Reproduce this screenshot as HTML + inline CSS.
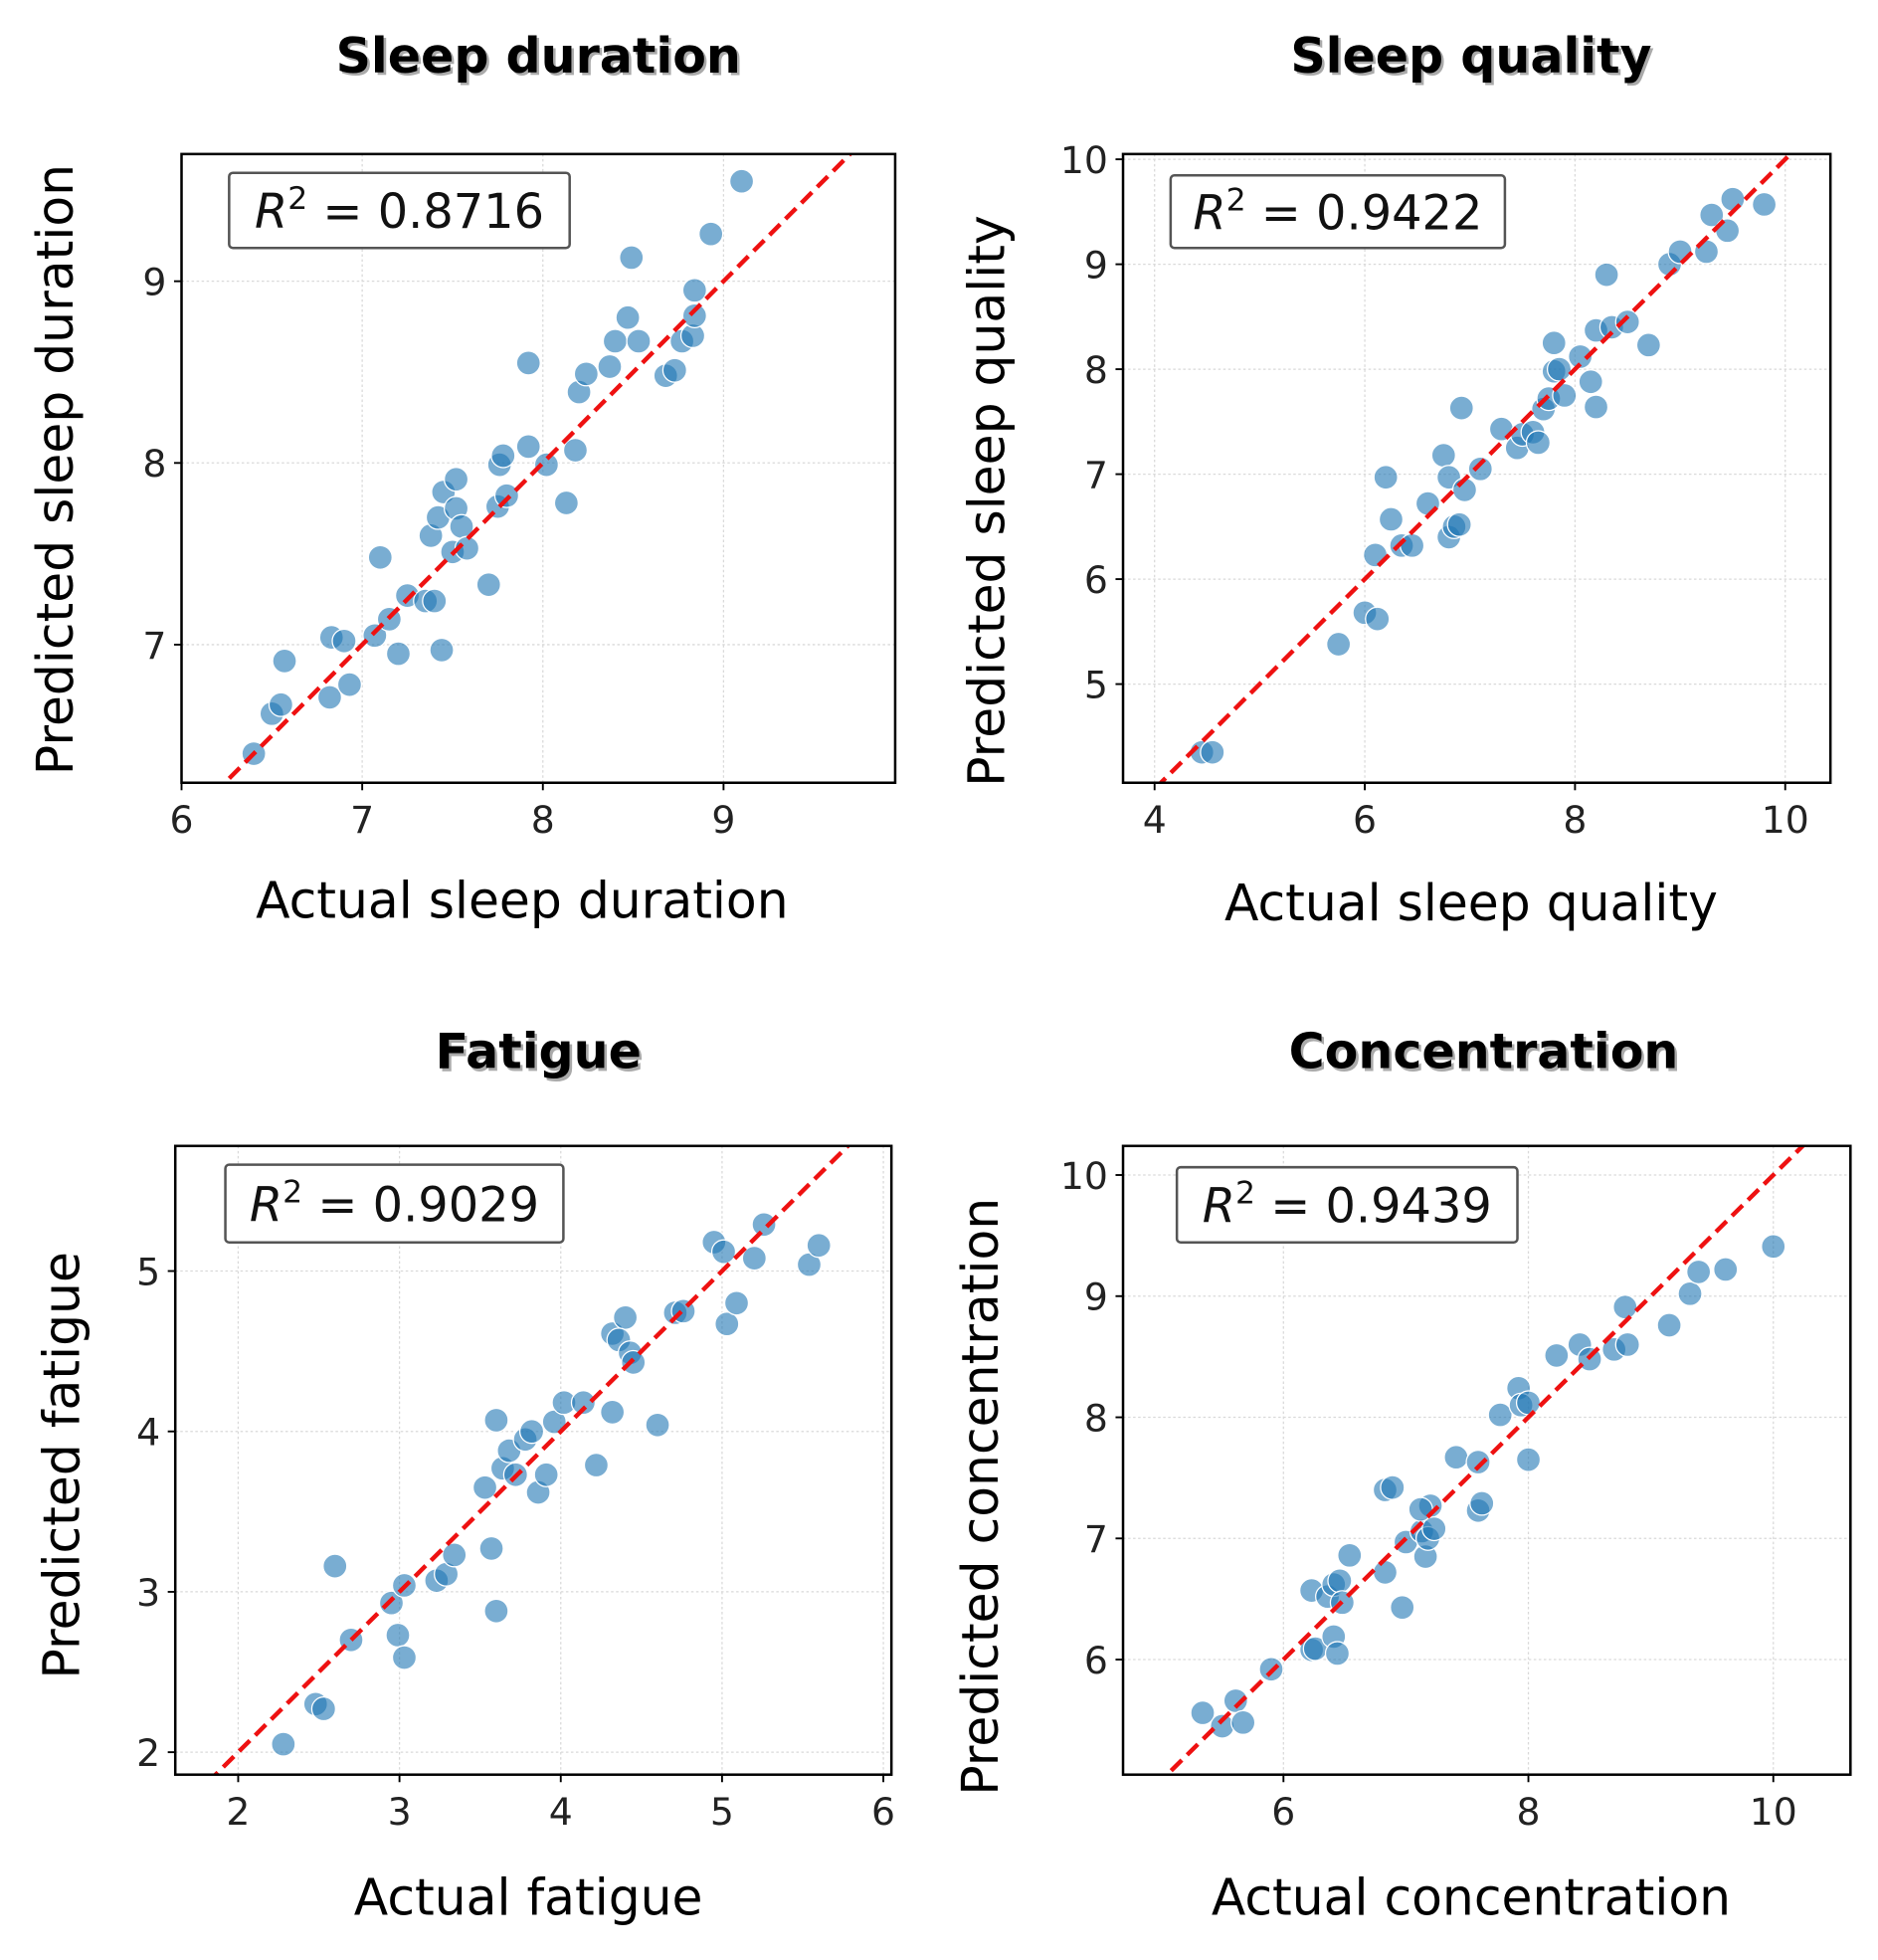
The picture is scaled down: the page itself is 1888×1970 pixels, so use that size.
<!DOCTYPE html>
<html><head><meta charset="utf-8"><style>
html,body{margin:0;padding:0;background:#fff}
svg{display:block}
text{font-family:"DejaVu Sans","Liberation Sans",sans-serif}
</style></head><body>
<svg id="fig" width="1888" height="1970" viewBox="0 0 1500 1565" preserveAspectRatio="none" xmlns="http://www.w3.org/2000/svg"></svg>
<script>
const p1x=[6.4,6.5,6.55,6.57,6.82,6.83,6.9,6.93,7.07,7.1,7.15,7.2,7.25,7.35,7.4,7.38,7.42,7.45,7.44,7.5,7.52,7.52,7.55,7.58,7.7,7.75,7.76,7.78,7.8,7.92,7.92,8.02,8.13,8.18,8.2,8.24,8.37,8.4,8.47,8.49,8.53,8.68,8.73,8.77,8.83,8.84,8.84,8.93,9.1];
const p1y=[6.4,6.62,6.67,6.91,6.71,7.04,7.02,6.78,7.05,7.48,7.14,6.95,7.27,7.24,7.24,7.6,7.7,7.84,6.97,7.51,7.75,7.91,7.65,7.53,7.33,7.76,7.99,8.04,7.82,8.09,8.55,7.99,7.78,8.07,8.39,8.49,8.53,8.67,8.8,9.13,8.67,8.48,8.51,8.67,8.7,8.81,8.95,9.26,9.55];
const p2x=[4.45,4.55,5.75,6.0,6.12,6.1,6.2,6.25,6.35,6.45,6.6,6.75,6.8,6.8,6.85,6.9,6.92,6.95,7.1,7.3,7.45,7.5,7.6,7.65,7.7,7.75,7.8,7.8,7.85,7.9,8.05,8.15,8.2,8.2,8.3,8.35,8.5,8.7,8.9,9.0,9.25,9.3,9.45,9.5,9.8];
const p2y=[4.35,4.35,5.38,5.68,5.62,6.23,6.97,6.57,6.32,6.32,6.72,7.18,6.97,6.4,6.5,6.52,7.63,6.85,7.05,7.43,7.25,7.38,7.4,7.3,7.62,7.72,7.98,8.25,8.0,7.75,8.12,7.88,8.37,7.64,8.9,8.4,8.45,8.23,9.0,9.12,9.12,9.47,9.32,9.62,9.57];
const p3x=[2.28,2.48,2.53,2.6,2.7,2.95,2.99,3.03,3.03,3.23,3.29,3.34,3.53,3.57,3.6,3.6,3.64,3.68,3.72,3.78,3.82,3.86,3.91,3.96,4.02,4.14,4.22,4.32,4.32,4.4,4.36,4.43,4.45,4.6,4.71,4.76,4.95,5.01,5.03,5.09,5.2,5.26,5.54,5.6];
const p3y=[2.05,2.3,2.27,3.16,2.7,2.93,2.73,2.59,3.04,3.07,3.11,3.23,3.65,3.27,2.88,4.07,3.77,3.88,3.73,3.95,4.0,3.62,3.73,4.06,4.18,4.18,3.79,4.12,4.61,4.71,4.57,4.49,4.43,4.04,4.74,4.75,5.18,5.12,4.67,4.8,5.08,5.29,5.04,5.16];
const p4x=[5.34,5.5,5.61,5.67,5.9,6.23,6.23,6.26,6.36,6.41,6.41,6.44,6.46,6.48,6.54,6.97,6.83,6.83,6.89,7.0,7.13,7.16,7.18,7.2,7.12,7.23,7.41,7.59,7.59,7.62,7.77,7.92,7.94,8.0,8.0,8.23,8.42,8.5,8.7,8.79,8.81,9.15,9.32,9.39,9.61,10.0];
const p4y=[5.56,5.45,5.66,5.48,5.92,6.57,6.08,6.09,6.52,6.62,6.19,6.05,6.65,6.47,6.86,6.43,6.72,7.4,7.42,6.97,7.06,6.85,7.0,7.27,7.24,7.08,7.67,7.63,7.23,7.29,8.02,8.24,8.1,7.65,8.12,8.51,8.6,8.48,8.56,8.91,8.6,8.76,9.02,9.2,9.22,9.41];
const xt1=[6,7,8,9], yt1=[7,8,9];
const xt2=[4,6,8,10], yt2=[5,6,7,8,9,10];
const xt3=[2,3,4,5,6], yt3=[2,3,4,5];
const xt4=[6,8,10], yt4=[6,7,8,9,10];
const r2=["0.8716","0.9422","0.9029","0.9439"];
const titles=["Sleep duration","Sleep quality","Fatigue","Concentration"];
const xlabels=["Actual sleep duration","Actual sleep quality","Actual fatigue","Actual concentration"];
const ylabels=["Predicted sleep duration","Predicted sleep quality","Predicted fatigue","Predicted concentration"];

const NS="http://www.w3.org/2000/svg";
const svg=document.getElementById('fig');
function mk(tag,attrs,parent){const e=document.createElementNS(NS,tag);for(const k in attrs)e.setAttribute(k,attrs[k]);(parent||svg).appendChild(e);return e;}

const panels=[
 {box:[145,123,715,625],xd:[6,9.95],yd:[6.24,9.70],xs:p1x,ys:p1y,xt:xt1,yt:yt1,title:[430,45],xl:[417,733],yl:[58,375],r2b:[183,138,272,60]},
 {box:[897,123,1462,625],xd:[3.70,10.43],yd:[4.06,10.05],xs:p2x,ys:p2y,xt:xt2,yt:yt2,title:[1175,45],xl:[1175,735],yl:[802,400],r2b:[935,140,267,58]},
 {box:[140,915,712,1417],xd:[1.61,6.05],yd:[1.86,5.78],xs:p3x,ys:p3y,xt:xt3,yt:yt3,title:[430,840],xl:[422,1529],yl:[63,1170],r2b:[180,930,270,62]},
 {box:[897,915,1478,1417],xd:[4.69,10.63],yd:[5.05,10.24],xs:p4x,ys:p4y,xt:xt4,yt:yt4,title:[1185,840],xl:[1175,1529],yl:[797,1195],r2b:[940,932,272,60]}
];

panels.forEach((p,i)=>{
 const g=mk('g',{});
 
 
 const [x0,y0,x1,y1]=p.box;
 const sx=v=>x0+(v-p.xd[0])/(p.xd[1]-p.xd[0])*(x1-x0);
 const sy=v=>y1-(v-p.yd[0])/(p.yd[1]-p.yd[0])*(y1-y0);
 const clip=mk('clipPath',{id:'c'+i},g); mk('rect',{x:x0,y:y0,width:x1-x0,height:y1-y0},clip);
 p.xt.forEach(v=>{const l=mk('line',{x1:sx(v),x2:sx(v),y1:y0,y2:y1,stroke:'#d9d9d9','stroke-width':1,'stroke-dasharray':'2,2'},g);});
 p.yt.forEach(v=>{const l=mk('line',{x1:x0,x2:x1,y1:sy(v),y2:sy(v),stroke:'#d9d9d9','stroke-width':1,'stroke-dasharray':'2,2'},g);});
 const pg=mk('g',{'clip-path':'url(#c'+i+')'},g);
 p.xs.forEach((v,j)=>{const c=mk('circle',{cx:sx(v),cy:sy(p.ys[j]),r:9.5,fill:'#1f77b4','fill-opacity':0.6,stroke:'#fff','stroke-width':1},pg);});
 const lo=Math.min(p.xd[0],p.yd[0]),hi=Math.max(p.xd[1],p.yd[1]);
 const dl=mk('line',{x1:sx(lo),y1:sy(lo),x2:sx(hi),y2:sy(hi),stroke:'#ee1111','stroke-width':3.5,'stroke-dasharray':'12,6','clip-path':'url(#c'+i+')'},g);
 
 const fr=mk('rect',{x:x0,y:y0,width:x1-x0,height:y1-y0,fill:'none',stroke:'#000','stroke-width':2},g);
 
 p.xt.forEach(v=>{mk('line',{x1:sx(v),x2:sx(v),y1:y1,y2:y1+6,stroke:'#000','stroke-width':1.5},g);
  const t=mk('text',{x:sx(v),y:y1+40,'font-size':30,'text-anchor':'middle',fill:'#222'},g);t.textContent=v;});
 p.yt.forEach(v=>{mk('line',{x1:x0-6,x2:x0,y1:sy(v),y2:sy(v),stroke:'#000','stroke-width':1.5},g);
  const t=mk('text',{x:x0-12,y:sy(v)+11,'font-size':30,'text-anchor':'end',fill:'#222'},g);t.textContent=v;});
 const [bx,by,bw,bh]=p.r2b;
 const rb=mk('rect',{x:bx,y:by,width:bw,height:bh,rx:3,fill:'#fff',stroke:'#555','stroke-width':2},g);
 
 const rt=mk('text',{x:bx+bw/2,y:by+bh/2+14,'font-size':38,'text-anchor':'middle',fill:'#111'},g);
 
 const ti=mk('tspan',{'font-style':'italic'},rt);ti.textContent='R';
 const ts=mk('tspan',{'font-size':25,dy:-15},rt);ts.textContent='2';
 const tr=mk('tspan',{dy:15},rt);tr.textContent=' = '+r2[i];
 const sh=mk('text',{x:p.title[0]+2,y:p.title[1]+15,'font-size':39,'font-weight':'bold','text-anchor':'middle',fill:'#aaa'},g);sh.textContent=titles[i];
 
 const tt=mk('text',{x:p.title[0],y:p.title[1]+13,'font-size':39,'font-weight':'bold','text-anchor':'middle',fill:'#000'},g);tt.textContent=titles[i];
 
 const xl=mk('text',{x:p.xl[0],y:p.xl[1],'font-size':40,'text-anchor':'middle',fill:'#000'},g);xl.textContent=xlabels[i];
 
 const yl=mk('text',{x:p.yl[0],y:p.yl[1],'font-size':40,'text-anchor':'middle',fill:'#000',transform:'rotate(-90 '+p.yl[0]+' '+p.yl[1]+')'},g);yl.textContent=ylabels[i];
 
});
</script>
</body></html>
